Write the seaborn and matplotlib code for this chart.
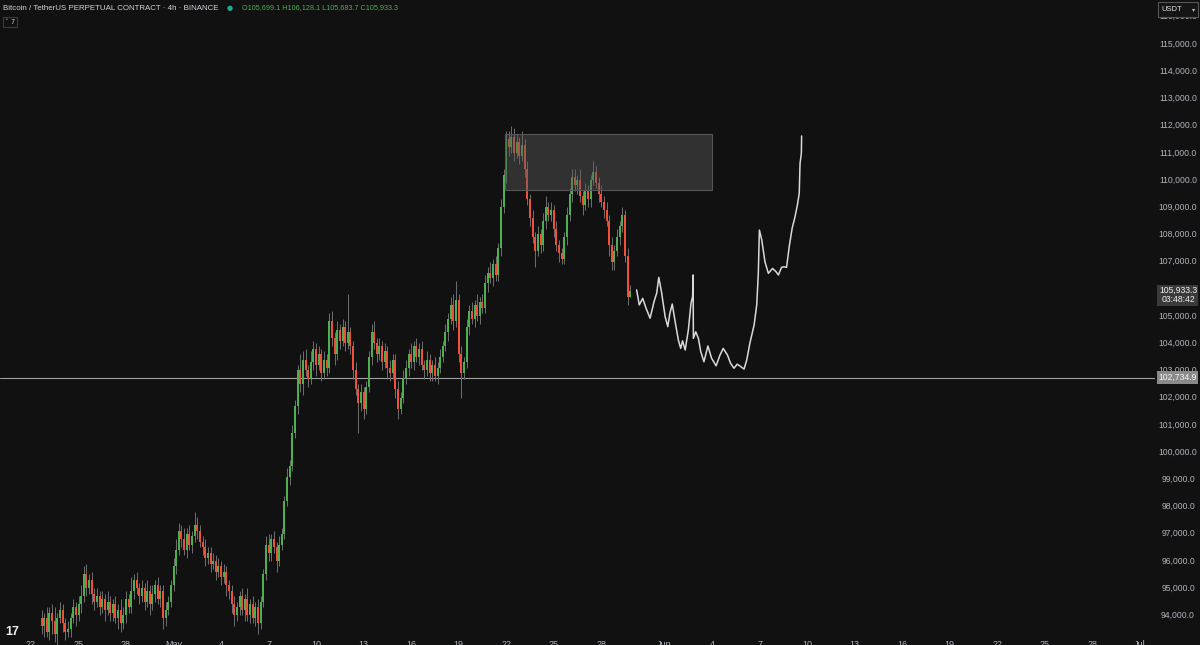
import numpy as np
import matplotlib
matplotlib.use("Agg")
import matplotlib.pyplot as plt
import matplotlib.transforms as mtrans
from matplotlib.patches import Rectangle
import seaborn as sns

# 4h candles, index 0 = Apr 22 00:00 ; closes in thousands USDT
first_idx = 4
first_open = 93.9
close_k = [
    93.6, 93.9, 93.4, 94.1, 93.8, 93.3, 93.9, 94.2, 93.7,            # Apr 22-24
    93.4, 93.5, 93.9, 94.3, 94.0, 94.4, 94.7,
    95.5,
    95.0, 95.3, 94.8, 94.5, 94.7, 94.3, 94.6, 94.2, 94.5, 94.1,
    94.4, 93.9, 94.2, 93.7, 94.0, 94.6, 94.3,
    94.9, 95.3, 95.0, 94.7,
    95.0, 94.5, 94.9, 94.4, 94.8, 95.1, 94.6, 94.9,
    93.9, 94.2, 94.5,
    95.1, 95.8, 96.4,
    97.1, 96.8, 96.4, 97.0, 96.6, 96.9, 97.3, 97.1, 96.7, 96.5,     # May 2-3
    96.1, 96.3, 95.9, 96.0, 95.6, 95.8, 95.4, 95.6, 95.1, 94.9,
    94.4, 94.0, 94.3,
    94.7, 94.2, 94.6, 94.0, 94.4, 93.9, 94.3, 93.7, 94.5,
    95.5, 96.6, 96.3,
    96.8, 96.5, 96.0, 96.6, 97.0,
    98.2, 99.1, 99.5, 100.7, 101.7, 103.0,                           # May 8 rally
    102.5, 103.4, 103.0, 102.7, 103.3, 103.8, 103.2, 103.6, 102.9, 103.4, 103.1,
    104.8, 104.2, 103.6, 104.5, 104.1, 104.6, 104.0, 104.4, 103.9,
    103.0, 102.3, 101.8, 102.2, 101.6, 102.4,
    103.5, 104.4, 104.0, 103.6,
    103.9, 103.3, 103.7, 103.1, 102.9, 103.4,
    102.3, 101.6, 102.0, 102.7,
    103.1, 103.6, 103.3, 103.9, 103.5, 103.8, 103.2, 103.0, 103.4, 102.9,
    103.2, 102.8, 103.1, 103.5, 103.9,
    104.4, 104.9, 105.4, 104.8, 105.6,
    103.6, 102.9, 103.3,
    104.6, 105.2, 104.9, 105.4, 105.0, 105.5, 105.3,
    106.2, 106.6, 106.4, 106.9, 106.5,
    107.5, 109.0, 110.2, 111.5,                                      # May 22 ATH
    111.2, 111.6, 111.0, 111.4, 110.9, 111.3,
    110.4, 109.3, 108.6,
    107.9, 107.4, 108.0, 107.6,
    108.5, 109.0, 108.7, 108.9,
    108.2, 107.6, 107.3, 107.1,
    107.9, 108.7, 109.5, 110.1,
    109.8, 110.0, 109.4, 109.1, 109.6, 109.3,
    110.0, 110.3, 109.9,
    109.5, 109.2, 108.9, 108.5,
    107.6, 107.0,
    107.4, 107.9, 108.3, 108.7,
    107.2, 105.699, 105.933,
]
# wick lengths, hundreds of USDT
wick_up = [
    3, 2, 4, 2, 3, 5, 2, 3, 2,
    2, 3, 2, 3, 2, 3, 4,
    3,
    4, 2, 3, 2, 3, 2, 3, 2, 4, 2,
    2, 3, 2, 4, 3, 3, 2,
    5, 2, 3, 2,
    3, 2, 4, 2, 3, 2, 3, 2,
    2, 3, 2,
    2, 3, 4,
    3, 2, 4, 2, 3, 2, 5, 3, 2, 2,
    3, 2, 2, 3, 2, 3, 2, 3, 2, 2,
    2, 3, 2,
    2, 3, 2, 4, 2, 3, 2, 3, 2,
    2, 3, 4,
    2, 3, 2, 3, 2,
    2, 3, 2, 3, 2, 2,
    6, 3, 4, 2, 4, 3, 2, 3, 2, 3, 2,
    3, 4, 2, 3, 2, 3, 2, 14, 2,
    2, 3, 2, 3, 2, 2,
    2, 3, 4, 2,
    3, 2, 3, 2, 3, 2,
    2, 3, 2, 3,
    3, 2, 4, 2, 3, 2, 3, 2, 3, 2,
    2, 3, 2, 3, 2,
    3, 2, 3, 4, 7,
    2, 3, 2,
    3, 2, 3, 2, 4, 2, 3,
    3, 2, 4, 2, 3,
    2, 3, 2, 3,
    3, 4, 3, 3, 2, 5,
    2, 3, 2,
    3, 2, 3, 2,
    3, 4, 2, 3,
    2, 3, 2, 2,
    2, 3, 2, 3,
    3, 2, 4, 2, 3, 2,
    2, 4, 2,
    2, 3, 2, 3,
    2, 3,
    2, 3, 2, 3,
    2, 3, 2,
]
wick_dn = [
    3, 4, 2, 3, 5, 3, 4, 2, 3,
    3, 2, 3, 2, 4, 2, 3,
    2,
    3, 2, 4, 3, 2, 3, 2, 4, 2, 3,
    3, 2, 4, 3, 2, 3, 2,
    2, 3, 2, 3,
    2, 3, 2, 4, 2, 3, 2, 3,
    4, 3, 2,
    2, 2, 3,
    2, 3, 2, 3, 2, 3, 2, 3, 2, 3,
    3, 2, 3, 2, 3, 2, 3, 2, 4, 3,
    3, 4, 2,
    3, 2, 4, 2, 3, 2, 3, 4, 2,
    2, 2, 3,
    3, 2, 4, 2, 2,
    2, 2, 3, 2, 2, 3,
    3, 4, 2, 3, 2, 3, 4, 2, 3, 2, 3,
    2, 3, 4, 2, 3, 2, 3, 2, 3,
    3, 2, 11, 3, 4, 2,
    2, 3, 2, 3,
    2, 3, 2, 4, 3, 2,
    3, 4, 2, 2,
    2, 3, 2, 3, 2, 3, 2, 3, 2, 3,
    3, 2, 3, 2, 2,
    2, 3, 2, 3, 2,
    3, 9, 2,
    2, 3, 2, 3, 2, 3, 2,
    2, 3, 2, 3, 2,
    2, 3, 2, 3,
    3, 2, 3, 2, 3, 2,
    3, 2, 3,
    2, 6, 2, 3,
    2, 3, 2, 2,
    3, 2, 3, 2,
    2, 3, 2, 3,
    2, 3, 2, 4, 2, 3,
    3, 2, 2,
    3, 2, 3, 2,
    4, 3,
    3, 2, 3, 2,
    2, 3, 0,
]

# hand-drawn projection (candle index, price k)
path_idx = [229.4, 230.4, 231.7, 233.0, 234.5, 236.0, 237.0, 237.8, 238.9, 240.2,
            241.2, 242.0, 242.9, 243.9, 245.2, 246.1, 246.8, 247.8, 249.0, 250.0,
            250.6, 250.8, 250.9, 251.8, 252.8, 253.7, 254.9, 256.4, 257.8, 259.5,
            261.0, 262.2, 263.8, 265.0, 266.3, 267.5, 268.6, 270.1, 271.1, 272.3,
            273.9, 274.9, 275.5, 275.9, 276.8, 278.0, 279.3, 280.9, 282.2, 283.1,
            284.3, 285.2, 286.2, 287.2, 288.3, 289.4, 290.3, 291.0, 291.3, 291.8, 291.9]
path_price = [105.96, 105.41, 105.65, 105.28, 104.92, 105.53, 105.84, 106.42, 105.84, 104.98,
              104.61, 105.10, 105.44, 104.85, 104.12, 103.81, 104.09, 103.75, 104.49, 105.47,
              105.71, 106.51, 104.18, 104.42, 104.18, 103.69, 103.32, 103.90, 103.45, 103.17,
              103.57, 103.81, 103.57, 103.26, 103.08, 103.23, 103.16, 103.05, 103.38, 104.00,
              104.67, 105.41, 106.57, 108.16, 107.80, 107.00, 106.57, 106.75, 106.63, 106.51,
              106.79, 106.81, 106.79, 107.55, 108.22, 108.65, 109.08, 109.51, 110.61, 110.98, 111.62]

zone = (179.5, 258.0, 109.62, 111.68)   # idx from, idx to, price low, price high
level = 102.7349
last_price = 105.9333
date_labels = ["22", "25", "28", "May", "4", "7", "10", "13", "16", "19", "22", "25",
               "28", "Jun", "4", "7", "10", "13", "16", "19", "22", "25", "28", "Jul"]
date_days = [0, 3, 6, 9, 12, 15, 18, 21, 24, 27, 30, 33, 36, 40, 43, 46, 49, 52, 55,
             58, 61, 64, 67, 70]
price_ticks = list(range(94, 117))

assert len(close_k) == len(wick_up) == len(wick_dn)

bg = "#111111"
green = "#4caf50"
red = "#ef5039"
txt = "#b2b5be"

sns.set_theme(style="dark", rc={"axes.facecolor": bg, "figure.facecolor": bg})
plt.rcParams["font.family"] = ["Liberation Sans", "DejaVu Sans"]

fig = plt.figure(figsize=(12, 6.45), dpi=100)
ax = fig.add_axes([0, 0, 1155 / 1200, 1])
ax.set_facecolor(bg)
ax.set_xlim(-31 / 2.64, (1155 - 31) / 2.64)
ax.set_ylim(92.907, 116.618)
ax.set_axis_off()

closes = np.array(close_k)
opens = np.concatenate([[first_open], closes[:-1]])
idx = np.arange(first_idx, first_idx + len(closes))
highs = np.maximum(opens, closes) + np.array(wick_up) / 10
lows = np.minimum(opens, closes) - np.array(wick_dn) / 10
up = closes >= opens
cols = np.where(up, green, red)

ax.vlines(idx, lows, highs, colors="#6f6f6f", linewidth=0.7, zorder=2)
body_lo = np.minimum(opens, closes)
body_h = np.maximum(np.abs(closes - opens), 0.04)
ax.bar(idx, body_h, bottom=body_lo, width=0.75, color=cols, linewidth=0, zorder=3)

# supply zone
ax.add_patch(Rectangle((zone[0], zone[2]), zone[1] - zone[0], zone[3] - zone[2],
                       facecolor="#5a5a5a", alpha=0.45, edgecolor="none", zorder=4))
ax.add_patch(Rectangle((zone[0], zone[2]), zone[1] - zone[0], zone[3] - zone[2],
                       facecolor="none", edgecolor="#555555", linewidth=0.8, zorder=4))

ax.axhline(level, color="#a0a0a0", linewidth=0.8, zorder=1)

sns.lineplot(x=path_idx, y=path_price, sort=False, estimator=None, ax=ax,
             color="#d9d9d9", linewidth=1.1, zorder=5)

# time axis
for lab, d in zip(date_labels, date_days):
    ax.text(d * 6, 0.0085, lab, transform=ax.get_xaxis_transform(), ha="center",
            va="top", fontsize=6.5, color=txt)

# price axis
tr = mtrans.blended_transform_factory(fig.transFigure, ax.transData)
for p in price_ticks:
    fig.text(1178 / 1200, p, f"{p * 1000:,.1f}", transform=tr, ha="center",
             va="center", fontsize=6.2, color=txt)

fig.patches.append(Rectangle((1157 / 1200, level - 0.23), 41 / 1200, 0.46, transform=tr,
                             facecolor="#8a8a8a", edgecolor="none", zorder=5))
fig.text(1178 / 1200, level, f"{level * 1000:,.1f}", transform=tr, ha="center",
         va="center", fontsize=6.2, color="#f5f5f5", zorder=6)

fig.patches.append(Rectangle((1157 / 1200, last_price - 0.57), 41 / 1200, 0.76, transform=tr,
                             facecolor="#3a3a3a", edgecolor="none", zorder=5))
fig.text(1178 / 1200, last_price, f"{last_price * 1000:,.1f}", transform=tr, ha="center",
         va="center", fontsize=6.2, color="#f0f0f0", zorder=6)
fig.text(1178 / 1200, last_price - 0.34, "03:48:42", transform=tr, ha="center",
         va="center", fontsize=6.2, color="#f0f0f0", zorder=6)

# USDT button
fig.patches.append(Rectangle((1158 / 1200, 1 - 17 / 645), 40 / 1200, 15 / 645,
                             transform=fig.transFigure, facecolor="#151515",
                             edgecolor="#555555", linewidth=0.8, zorder=7))
fig.text(1161 / 1200, 1 - 9.5 / 645, "USDT", ha="left", va="center", fontsize=5.5,
         color="#e0e0e0", zorder=8)
fig.text(1194 / 1200, 1 - 9.5 / 645, "▾", ha="center", va="center", fontsize=4.5,
         color="#c0c0c0", zorder=8, family="DejaVu Sans")

# header
fig.text(3 / 1200, 1 - 8 / 645, "Bitcoin / TetherUS PERPETUAL CONTRACT · 4h · BINANCE",
         ha="left", va="center", fontsize=5.7, color="#d1d4dc")
fig.text(230 / 1200, 1 - 8 / 645, "●", ha="center", va="center", fontsize=5,
         color="#22ab94", family="DejaVu Sans")
fig.text(242 / 1200, 1 - 8 / 645, "O105,699.1 H106,128.1 L105,683.7 C105,933.3",
         ha="left", va="center", fontsize=5.2, color=green)
fig.patches.append(Rectangle((3 / 1200, 1 - 27 / 645), 14 / 1200, 10 / 645,
                             transform=fig.transFigure, facecolor="none",
                             edgecolor="#3a3a3a", linewidth=0.8))
fig.text(10 / 1200, 1 - 22 / 645, "˅ 7", ha="center", va="center", fontsize=5,
         color="#c0c0c0", family="DejaVu Sans")

# logo
fig.text(5 / 1200, 13 / 645, "17", ha="left", va="center", fontsize=9,
         fontweight="heavy", color="#eeeeee")

fig.savefig("out.png", dpi=100, facecolor=bg)
